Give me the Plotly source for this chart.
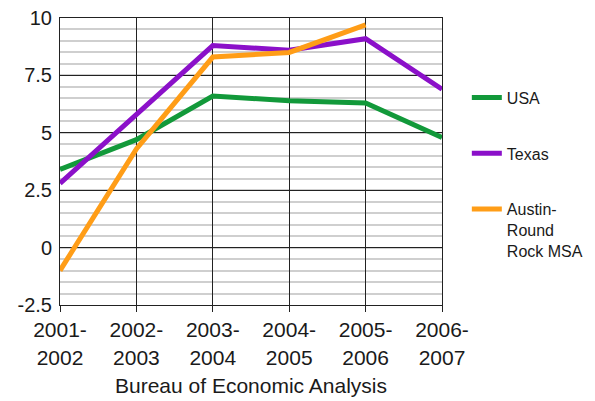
import plotly.graph_objects as go

periods = ["2001-<br>2002", "2002-<br>2003", "2003-<br>2004", "2004-<br>2005", "2005-<br>2006", "2006-<br>2007"]
usa = [3.4, 4.7, 6.6, 6.4, 6.3, 4.8]
texas = [2.8, 5.8, 8.8, 8.6, 9.1, 6.9]
austin = [-1.0, 4.3, 8.3, 8.5, 9.7, None]

y_ticks = [-2.5, 0, 2.5, 5, 7.5, 10]
y_labels = ["-2.5", "0", "2.5", "5", "7.5", "10"]

series = [
    ("USA", usa, "#12993a"),
    ("Texas", texas, "#8b10c9"),
    ("Austin-<br>Round<br>Rock MSA", austin, "#ff9d17"),
]

fig = go.Figure()
for i, (name, vals, color) in enumerate(series):
    fig.add_trace(go.Scatter(x=periods, y=vals, name=name, mode="lines",
                             line=dict(color=color, width=5), legendgroup=str(i)))

# page body has an 8px margin, so the figure is a bit smaller than the window
fig.update_layout(
    width=587, height=393,
    margin=dict(l=52, r=153, t=10, b=96, autoexpand=False),
    paper_bgcolor="white", plot_bgcolor="white",
    font=dict(family="Liberation Sans, Arial, sans-serif", color="#1a1a1a"),
    showlegend=True,
    legend=dict(x=1.065, xanchor="left", y=0.782, yanchor="top",
                font=dict(size=16), tracegroupgap=32, valign="top",
                traceorder="grouped", itemwidth=30),
)
fig.update_xaxes(type="category", range=[0, 5], showgrid=True, gridcolor="#222", gridwidth=1,
                 ticks="outside", ticklen=6, tickcolor="#222", tickfont=dict(size=21),
                 title=dict(text="Bureau of Economic Analysis", font=dict(size=21), standoff=10),
                 showline=True, mirror=True, linecolor="#222", zeroline=False)
fig.update_yaxes(range=[-2.5, 10], tickvals=y_ticks, ticktext=y_labels, tickfont=dict(size=20),
                 showgrid=True, gridcolor="#222", gridwidth=1, zeroline=False,
                 showline=True, mirror=True, linecolor="#222", ticklabeloverflow="allow",
                 minor=dict(dtick=0.5, showgrid=True, gridcolor="#cfcfcf", gridwidth=1.5),
                 ticks="", ticklabelstandoff=3)

fig.write_html("out.html")
